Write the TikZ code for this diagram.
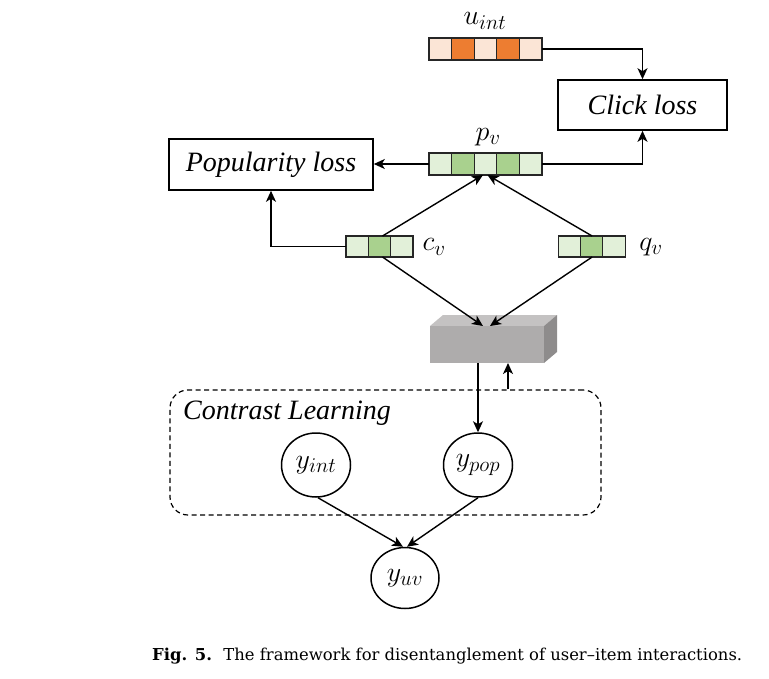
\RequirePackage{fix-cm}
\documentclass[tikz,border=0pt]{standalone}
\usepackage{fontspec}
\newfontfamily\tnr{Liberation Serif}
\newfontfamily\capfont{DejaVu Serif}
\DeclareMathSizes{28}{28}{21}{15}
\usetikzlibrary{arrows.meta,calc,shapes.geometric}
\definecolor{peach}{HTML}{FBE5D6}
\definecolor{orng}{HTML}{ED7D31}
\definecolor{lgreen}{HTML}{E2F0D9}
\definecolor{dgreen}{HTML}{A9D18E}
\definecolor{gfront}{HTML}{AEACAC}
\definecolor{gtop}{HTML}{C4C2C2}
\definecolor{gside}{HTML}{8E8C8C}
\tikzset{
  cell/.style={draw=black!85, line width=1.1pt, minimum width=22.6pt, minimum height=22pt, inner sep=0pt, outer sep=0pt},
  ccell/.style={cell, minimum width=22.33pt, minimum height=21pt},
  lossbox/.style={draw, line width=1.6pt, inner sep=0pt, font=\tnr\itshape\fontsize{28}{32}\selectfont},
  arr/.style={line width=1.4pt, -{Stealth[length=11pt,width=10pt,inset=3pt]}},
  lbl/.style={inner sep=0pt, font=\fontsize{28}{32}\selectfont},
  circ/.style={draw, ellipse, line width=1.5pt, minimum width=69pt, minimum height=64pt, inner sep=0pt, font=\fontsize{28}{32}\selectfont},
}
\begin{document}
\begin{tikzpicture}[x=1pt,y=-1pt]
\useasboundingbox (0,0) rectangle (769,678);
% u_int bar
\node[lbl] (ulab) at (485,21) {$u_{int}$};
\node[cell, fill=peach] (u1) at (440.3,49) {};
\node[cell, fill=orng]  (u2) at (462.9,49) {};
\node[cell, fill=peach] (u3) at (485.5,49) {};
\node[cell, fill=orng]  (u4) at (508.1,49) {};
\node[cell, fill=peach] (u5) at (530.7,49) {};
% p_v bar
\node[lbl] (plab) at (488,137) {$p_v$};
\node[cell, fill=lgreen] (p1) at (440.3,164) {};
\node[cell, fill=dgreen] (p2) at (462.9,164) {};
\node[cell, fill=lgreen] (p3) at (485.5,164) {};
\node[cell, fill=dgreen] (p4) at (508.1,164) {};
\node[cell, fill=lgreen] (p5) at (530.7,164) {};
% c_v bar
\node[ccell, fill=lgreen] (c1) at (357.2,246.5) {};
\node[ccell, fill=dgreen] (c2) at (379.5,246.5) {};
\node[ccell, fill=lgreen] (c3) at (401.8,246.5) {};
\node[lbl] (clab) at (434,247) {$c_v$};
% q_v bar
\node[ccell, fill=lgreen] (q1) at (569.3,246.5) {};
\node[ccell, fill=dgreen] (q2) at (591.6,246.5) {};
\node[ccell, fill=lgreen] (q3) at (613.9,246.5) {};
\node[lbl] (qlab) at (651,247) {$q_v$};
% loss boxes
\node[lossbox, minimum width=169pt, minimum height=50pt] (click) at (642.5,105) {Click loss};
\node[lossbox, minimum width=204pt, minimum height=51pt] (pop) at (271,164.5) {Popularity loss};
% gray cuboid
\fill[gtop] (430,326) -- (443,315) -- (557,315) -- (544,326) -- cycle;
\fill[gside] (544,326) -- (557,315) -- (557,352) -- (544,363) -- cycle;
\node[fill=gfront, minimum width=114pt, minimum height=37pt, inner sep=0pt, outer sep=0pt] (box) at (487,344.5) {};
% contrast learning
\node[draw, dashed, dash pattern=on 5pt off 3.5pt, line width=1.2pt, rounded corners=18pt, minimum width=431pt, minimum height=125pt, inner sep=0pt] (cl) at (385.5,452.5) {};
\node[anchor=base west, inner sep=0pt, font=\tnr\itshape\fontsize{28}{32}\selectfont] (cltxt) at (183,419) {Contrast Learning};
\node[circ] (yint) at (316,465) {$y_{int}$};
\node[circ] (ypop) at (478,465) {$y_{pop}$};
\node[circ, minimum width=68pt, minimum height=61pt] (yuv) at (405,578) {$y_{uv}$};
% connectors
\draw[arr] (u5.east) -| (click.north);
\draw[arr] (p5.east) -| (click.south);
\draw[arr] (p1.west) -- (p1.west -| pop.east);
\draw[arr] (c1.west) -| (pop.south);
\draw[arr] ($(c2.north)+(3,0)$) -- ($(p3.south)+(-2.5,0)$);
\draw[arr] ($(q2.north)+(0.5,0)$) -- ($(p3.south)+(2,0)$);
\draw[arr] ($(c2.south)+(3,0)$) -- ($(box.north)+(-4,0)$);
\draw[arr] ($(q2.south)+(0.5,0)$) -- ($(box.north)+(3,0)$);
\draw[arr] (box.south -| ypop.north) -- (ypop.north);
\draw[arr] ($(cl.north)+(122.5,0)$) -- ($(box.south)+(21,0)$);
\draw[arr] ($(yint.south)+(2,0)$) -- ($(yuv.north)+(-2,0)$);
\draw[arr] (ypop.south) -- ($(yuv.north)+(2,0)$);
% caption
\node[anchor=base west, inner sep=0pt, font=\capfont\fontsize{16.4}{19}\selectfont] (cap) at (152,660) {\textbf{Fig. 5.}\hspace{0.7em}The framework for disentanglement of user–item interactions.};
\end{tikzpicture}
\end{document}
